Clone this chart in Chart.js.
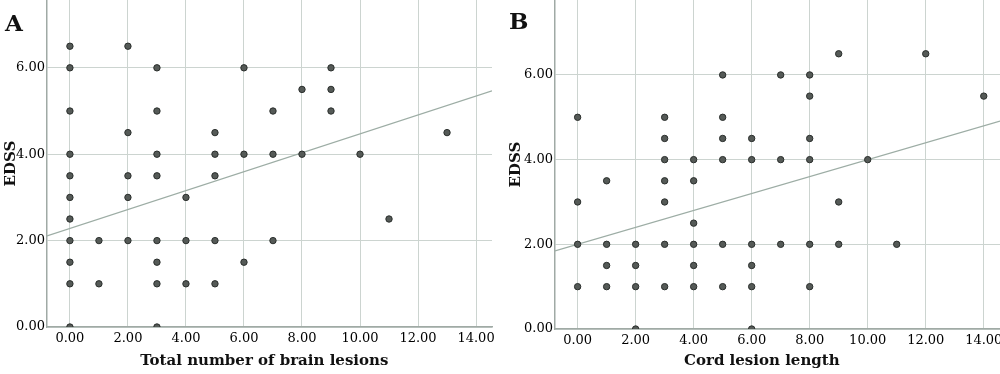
<!DOCTYPE html>
<html lang="en">
    <head>
        <meta charset="UTF-8">
        <title>EDSS scatter</title>
        <style>
            body { margin: 0; background: #fff; }
            .painel { position: absolute; top: 0; width: 500px; height: 374px; }
            #painelA { left: 0; }
            #painelB { left: 500px; }
            .letra { position: absolute; font-family: 'DejaVu Serif', serif; font-weight: bold; font-size: 23px; color: #111; }
        </style>
    </head>

    <body>
        <div class="painel" id="painelA">
            <canvas id="chartA" width="500" height="374"></canvas>
            <div class="letra" style="left:5px; top:9px;">A</div>
        </div>
        <div class="painel" id="painelB">
            <canvas id="chartB" width="500" height="374"></canvas>
            <div class="letra" style="left:9px; top:7px;">B</div>
        </div>
    </body>
</html>

<script src="https://cdn.jsdelivr.net/npm/chart.js"></script>

<script>
    // ticks comuns aos dois graficos
    const xTicks = [0, 2, 4, 6, 8, 10, 12, 14];
    const yTicks = [0, 2, 4, 6];

    // A: total de lesoes cerebrais x EDSS
    const lesoesA = [0, 0, 0, 0, 0, 0, 0, 0, 0, 0, 0,
                     1, 1,
                     2, 2, 2, 2, 2,
                     3, 3, 3, 3, 3, 3, 3, 3,
                     4, 4, 4,
                     5, 5, 5, 5, 5,
                     6, 6, 6,
                     7, 7, 7,
                     8, 8,
                     9, 9, 9,
                     10, 11, 13];
    const edssA = [6.5, 6, 5, 4, 3.5, 3, 2.5, 2, 1.5, 1, 0,
                   2, 1,
                   6.5, 4.5, 3.5, 3, 2,
                   6, 5, 4, 3.5, 2, 1.5, 1, 0,
                   3, 2, 1,
                   4.5, 4, 3.5, 2, 1,
                   6, 4, 1.5,
                   5, 4, 2,
                   5.5, 4,
                   6, 5.5, 5,
                   4, 2.5, 4.5];
    const retaA = { intercepto: 2.28, inclinacao: 0.219 };

    // B: comprimento da lesao medular x EDSS
    const lesoesB = [0, 0, 0, 0,
                     1, 1, 1, 1,
                     2, 2, 2, 2,
                     3, 3, 3, 3, 3, 3, 3,
                     4, 4, 4, 4, 4, 4,
                     5, 5, 5, 5, 5, 5,
                     6, 6, 6, 6, 6, 6,
                     7, 7, 7,
                     8, 8, 8, 8, 8, 8,
                     9, 9, 9,
                     10, 11, 12, 14];
    const edssB = [5, 3, 2, 1,
                   3.5, 2, 1.5, 1,
                   2, 1.5, 1, 0,
                   5, 4.5, 4, 3.5, 3, 2, 1,
                   4, 3.5, 2.5, 2, 1.5, 1,
                   6, 5, 4.5, 4, 2, 1,
                   4.5, 4, 2, 1.5, 1, 0,
                   6, 4, 2,
                   6, 5.5, 4.5, 4, 2, 1,
                   6.5, 3, 2,
                   4, 2, 6.5, 5.5];
    const retaB = { intercepto: 2.0, inclinacao: 0.2 };

    const corGrade = '#ccd4d0';
    const corEixo = '#a0aaa5';
    const fonteTick = { family: 'DejaVu Serif', size: 13 };
    const fonteTitulo = { family: 'DejaVu Serif', size: 15, weight: 'bold' };

    function plotarGrafico(elementId, xs, ys, reta, tituloX, limites) {
        const ctx = document.getElementById(elementId).getContext('2d');

        const pontos = xs.map((x, i) => ({ x: x, y: ys[i] }));
        const linha = [limites.xMin, limites.xMax].map(x => ({ x: x, y: reta.intercepto + reta.inclinacao * x }));

        return new Chart(ctx, {
            type: 'scatter',
            data: {
                datasets: [{
                    data: pontos,
                    backgroundColor: '#555a57',
                    borderColor: '#2a2e2c',
                    borderWidth: 1,
                    pointRadius: 3.2
                }, {
                    type: 'line',
                    data: linha,
                    borderColor: '#9dada5',
                    borderWidth: 1.3,
                    pointRadius: 0,
                    fill: false
                }]
            },
            options: {
                responsive: false,
                animation: false,
                layout: { autoPadding: false, padding: { top: 0, right: limites.padDir, bottom: 0, left: 0 } },
                plugins: { legend: { display: false }, tooltip: { enabled: false } },
                scales: {
                    x: {
                        type: 'linear',
                        min: limites.xMin,
                        max: limites.xMax,
                        afterBuildTicks: s => { s.ticks = xTicks.map(v => ({ value: v })); },
                        afterFit: s => { s.height = limites.altX; s.paddingLeft = 0; s.paddingRight = 0; },
                        grid: { color: corGrade, drawTicks: false },
                        border: { color: corEixo, width: 1.5 },
                        ticks: { color: '#000', font: fonteTick, padding: 4, callback: v => v.toFixed(2) },
                        // espacos no fim deslocam o titulo para a esquerda, como no original
                        title: { display: true, text: tituloX + '\u00a0'.repeat(limites.espacos), color: '#111', font: fonteTitulo, padding: { top: 4 } }
                    },
                    y: {
                        min: 0,
                        max: limites.yMax,
                        afterBuildTicks: s => { s.ticks = yTicks.map(v => ({ value: v })); },
                        afterFit: s => { s.width = limites.largY; s.paddingTop = 0; s.paddingBottom = 0; },
                        grid: { color: corGrade, drawTicks: false },
                        border: { color: corEixo, width: 1.5 },
                        ticks: { color: '#000', font: fonteTick, padding: 2, callback: v => v.toFixed(2) },
                        title: { display: true, text: 'EDSS', color: '#111', font: fonteTitulo, padding: limites.padTituloY }
                    }
                }
            }
        });
    }

    plotarGrafico('chartA', lesoesA, edssA, retaA, 'Total number of brain lesions',
        { xMin: -0.79, xMax: 14.55, yMax: 7.57, padDir: 8, altX: 47, largY: 47, padTituloY: 2, espacos: 2 });
    plotarGrafico('chartB', lesoesB, edssB, retaB, 'Cord lesion length',
        { xMin: -0.78, xMax: 14.56, yMax: 7.77, padDir: 0, altX: 45, largY: 55, padTituloY: 7, espacos: 6 });
</script>
